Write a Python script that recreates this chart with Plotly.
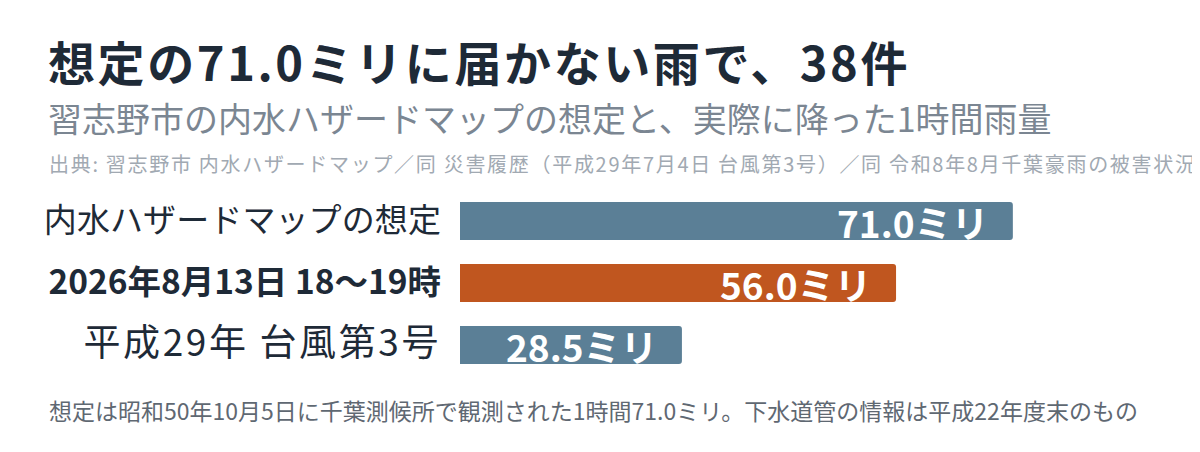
import plotly.graph_objects as go

categories = ["内水ハザードマップの想定", "2026年8月13日 18〜19時", "平成29年 台風第3号"]
values = [71.0, 56.0, 28.5]
colors = ["#5b7f96", "#c0561f", "#5b7f96"]
value_labels = ["71.0ミリ", "56.0ミリ", "28.5ミリ"]

title = "想定の71.0ミリに届かない雨で、38件"
subtitle = "習志野市の内水ハザードマップの想定と、実際に降った1時間雨量"
source = "出典: 習志野市 内水ハザードマップ／同 災害履歴（平成29年7月4日 台風第3号）／同 令和8年8月千葉豪雨の被害状況"
note = "想定は昭和50年10月5日に千葉測候所で観測された1時間71.0ミリ。下水道管の情報は平成22年度末のもの"

# page offset (browser body margin) compensation
OFF = 8
W, H = 1200 - OFF, 452 - OFF
ML, MR, MT, MB = 452, 156, 182, 76
PW, PH = W - ML - MR, H - MT - MB
FONT = "Noto Sans CJK JP"
DARK = "#1e2a37"

def px(x):
    return (x - OFF - ML) / PW

def py(y):
    return (H - MB - (y - OFF)) / PH

def styled(text, size, spacing=0, bold=False):
    t = f"<b>{text}</b>" if bold else text
    return f'<span style="font-size:{size}px; letter-spacing:{spacing}px">{t}</span>'

tick_text = [
    styled(categories[0], 33, spacing=0.1),
    styled(categories[1], 33.5, bold=True),
    styled(categories[2], 37, spacing=2.6),
]

fig = go.Figure()
fig.add_trace(go.Bar(
    x=values, y=categories, orientation="h",
    marker=dict(color=colors, cornerradius=3, line=dict(width=0)),
    hoverinfo="skip",
))

annotations = []
for v, c, lab in zip(values, categories, value_labels):
    annotations.append(dict(
        x=v, y=c, xref="x", yref="y", text=f"<b>{lab}</b>", showarrow=False,
        xanchor="right", yanchor="middle", xshift=-22, yshift=-1,
        font=dict(family=FONT, size=37, color="white"),
    ))

annotations += [
    dict(x=px(46), y=py(60), xref="paper", yref="paper",
         text=styled(title, 47, spacing=2.6, bold=True),
         showarrow=False, xanchor="left", yanchor="middle",
         font=dict(family=FONT, size=47, color=DARK)),
    dict(x=px(46), y=py(118), xref="paper", yref="paper", text=subtitle,
         showarrow=False, xanchor="left", yanchor="middle",
         font=dict(family=FONT, size=34, color="#7b8692")),
    dict(x=px(47), y=py(164), xref="paper", yref="paper",
         text=styled(source, 20, spacing=1.7),
         showarrow=False, xanchor="left", yanchor="middle",
         font=dict(family=FONT, size=20, color="#a1a9b2")),
    dict(x=px(47), y=py(410), xref="paper", yref="paper", text=note,
         showarrow=False, xanchor="left", yanchor="middle",
         font=dict(family=FONT, size=23, color="#5f6872")),
]

fig.update_layout(
    width=W, height=H,
    margin=dict(l=ML, r=MR, t=MT, b=MB, pad=0),
    paper_bgcolor="white", plot_bgcolor="white",
    bargap=0.387,
    showlegend=False,
    annotations=annotations,
    xaxis=dict(range=[0, 75], visible=False, fixedrange=True),
    yaxis=dict(autorange="reversed", showgrid=False, zeroline=False, showline=False,
               ticks="", ticklabelstandoff=18,
               tickmode="array", tickvals=categories, ticktext=tick_text,
               tickfont=dict(family=FONT, size=32, color=DARK)),
    font=dict(family=FONT),
)

fig.write_html("out.html")
